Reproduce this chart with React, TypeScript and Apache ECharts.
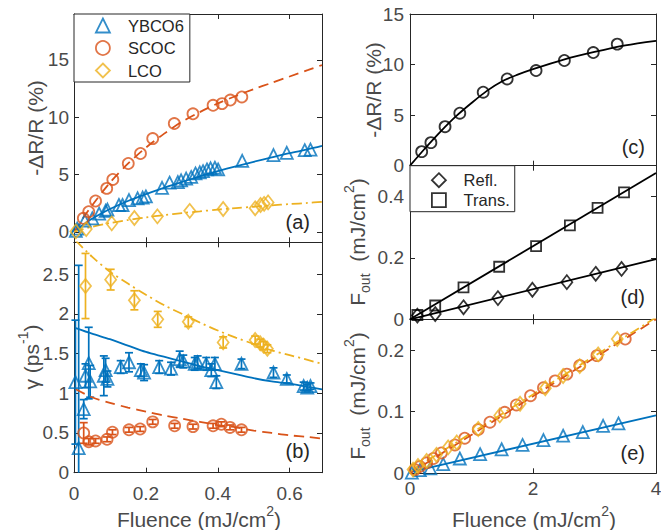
import React, { useEffect, useRef } from 'react';
import * as echarts from 'echarts';

// ---------- Panel (a): -ΔR/R (%) vs fluence ----------
const ybcoAX = [0.005, 0.009, 0.03, 0.051, 0.07, 0.088, 0.093, 0.125, 0.135, 0.153, 0.177, 0.191, 0.2, 0.245, 0.266, 0.289, 0.298, 0.312, 0.326, 0.338, 0.35, 0.359, 0.37, 0.38, 0.392, 0.401, 0.468, 0.555, 0.592, 0.642, 0.658];
const ybcoAY = [0.1, 0.3, 1.0, 1.19, 1.6, 1.85, 1.95, 2.35, 2.35, 2.78, 2.93, 3.0, 3.1, 3.85, 4.3, 4.35, 4.5, 4.65, 4.8, 5.1, 5.2, 5.3, 5.45, 5.55, 5.6, 5.45, 6.2, 6.7, 6.9, 7.13, 7.18];
const scocAX = [0.026, 0.041, 0.06, 0.091, 0.108, 0.151, 0.185, 0.219, 0.279, 0.331, 0.387, 0.412, 0.435, 0.467];
const scocAY = [1.19, 1.77, 2.7, 3.8, 4.58, 5.97, 6.84, 8.14, 9.45, 10.3, 11.04, 11.19, 11.5, 11.77];
const lcoAX = [0.005, 0.034, 0.105, 0.168, 0.232, 0.322, 0.415, 0.504, 0.519, 0.529, 0.54];
const lcoAY = [0.05, 0.25, 0.75, 1.22, 1.36, 1.84, 2.0, 2.06, 2.35, 2.45, 2.58];

const fitLX = [0, 0.025, 0.05, 0.1, 0.15, 0.2, 0.25, 0.3, 0.35, 0.4, 0.45, 0.5, 0.55, 0.6, 0.65, 0.69];
const ybcoFitAY = [0, 0.6, 1.15, 2.0, 2.7, 3.3, 3.85, 4.35, 4.85, 5.3, 5.72, 6.12, 6.5, 6.87, 7.2, 7.5];
const scocFitAY = [0, 1.2, 2.3, 4.3, 5.95, 7.35, 8.55, 9.6, 10.45, 11.2, 11.85, 12.45, 13.0, 13.55, 14.1, 14.55];
const lcoFitAY = [0, 0.24, 0.45, 0.78, 1.04, 1.27, 1.47, 1.65, 1.8, 1.95, 2.08, 2.2, 2.32, 2.43, 2.53, 2.63];

// ---------- Panel (b): γ (ps^-1) vs fluence, with error bars ----------
const ybcoBX = [0.004, 0.013, 0.027, 0.032, 0.041, 0.045, 0.083, 0.088, 0.093, 0.13, 0.153, 0.186, 0.195, 0.237, 0.27, 0.294, 0.304, 0.336, 0.344, 0.368, 0.382, 0.392, 0.396, 0.466, 0.555, 0.592, 0.639, 0.649, 0.658];
const ybcoBY = [1.14, 0.31, 0.8, 1.22, 1.38, 1.15, 1.22, 1.29, 1.18, 1.33, 1.39, 1.29, 1.26, 1.33, 1.31, 1.43, 1.4, 1.37, 1.39, 1.37, 1.29, 1.37, 1.14, 1.37, 1.26, 1.18, 1.09, 1.07, 1.09];
const ybcoBErr = [0.78, 2.3, 0.12, 0.15, 0.45, 0.2, 0.25, 0.15, 0.1, 0.08, 0.12, 0.08, 0.1, 0.08, 0.08, 0.1, 0.08, 0.08, 0.08, 0.08, 0.08, 0.08, 0.08, 0.06, 0.06, 0.05, 0.05, 0.04, 0.04];
const scocBX = [0.027, 0.041, 0.06, 0.092, 0.107, 0.153, 0.184, 0.219, 0.28, 0.331, 0.387, 0.41, 0.434, 0.466];
const scocBY = [0.5, 0.39, 0.4, 0.42, 0.51, 0.54, 0.55, 0.64, 0.59, 0.58, 0.59, 0.61, 0.57, 0.54];
const scocBErr = [0.13, 0.04, 0.03, 0.03, 0.03, 0.03, 0.03, 0.03, 0.03, 0.03, 0.03, 0.03, 0.03, 0.03];
const lcoBX = [0.032, 0.102, 0.168, 0.233, 0.318, 0.415, 0.504, 0.518, 0.527, 0.538];
const lcoBY = [2.35, 2.43, 2.17, 1.93, 1.9, 1.64, 1.67, 1.63, 1.6, 1.56];
const lcoBErr = [0.41, 0.13, 0.12, 0.1, 0.06, 0.07, 0.05, 0.05, 0.05, 0.05];

const fitBX = [0.005, 0.05, 0.1, 0.15, 0.2, 0.25, 0.3, 0.35, 0.4, 0.45, 0.5, 0.55, 0.6, 0.65, 0.69];
const ybcoFitBY = [1.82, 1.75, 1.68, 1.6, 1.52, 1.46, 1.4, 1.34, 1.29, 1.24, 1.19, 1.15, 1.12, 1.08, 1.05];
const scocFitBY = [1.05, 0.95, 0.88, 0.82, 0.77, 0.72, 0.68, 0.64, 0.6, 0.57, 0.53, 0.5, 0.47, 0.45, 0.43];
const lcoFitBY = [2.92, 2.72, 2.53, 2.38, 2.24, 2.11, 2.0, 1.89, 1.79, 1.7, 1.62, 1.54, 1.48, 1.42, 1.37];

// ---------- Panel (c) ----------
const cX = [0.19, 0.34, 0.57, 0.81, 1.19, 1.58, 2.05, 2.51, 2.98, 3.37];
const cY = [1.39, 2.28, 3.86, 5.19, 7.27, 8.58, 9.41, 10.4, 11.19, 12.02];
const cFitX = [0, 0.25, 0.5, 0.75, 1, 1.25, 1.5, 1.75, 2, 2.5, 3, 3.5, 4];
const cFitY = [0, 1.75, 3.4, 4.9, 6.2, 7.4, 8.35, 9.0, 9.55, 10.5, 11.25, 11.9, 12.35];

// ---------- Panel (d) ----------
const reflX = [0.12, 0.41, 0.87, 1.43, 1.99, 2.55, 3.02, 3.44];
const reflY = [0.012, 0.017, 0.039, 0.069, 0.096, 0.121, 0.148, 0.164];
const transX = [0.12, 0.41, 0.87, 1.45, 2.05, 2.6, 3.05, 3.48];
const transY = [0.014, 0.045, 0.104, 0.171, 0.238, 0.306, 0.363, 0.413];
const dFitX = [0, 4];
const reflFitY = [0, 0.196];
const transFitY = [0, 0.476];

// ---------- Panel (e) ----------
const ybcoEX = [0.03, 0.16, 0.33, 0.54, 0.81, 1.14, 1.49, 1.83, 2.17, 2.49, 2.81, 3.14, 3.39];
const ybcoEY = [0.001, 0.005, 0.008, 0.015, 0.024, 0.031, 0.039, 0.046, 0.054, 0.061, 0.067, 0.077, 0.081];
const scocEX = [0.08, 0.16, 0.27, 0.38, 0.51, 0.73, 0.89, 1.11, 1.3, 1.54, 1.73, 1.96, 2.17, 2.36, 2.55, 2.76, 3.04, 3.5];
const scocEY = [0.006, 0.011, 0.017, 0.024, 0.033, 0.046, 0.057, 0.071, 0.083, 0.099, 0.111, 0.126, 0.139, 0.15, 0.161, 0.175, 0.191, 0.218];
const lcoEX = [0.05, 0.13, 0.27, 0.43, 0.62, 0.76, 1.11, 1.46, 1.79, 2.2, 2.49, 2.76, 3.06, 3.37];
const lcoEY = [0.006, 0.012, 0.02, 0.03, 0.042, 0.05, 0.072, 0.094, 0.113, 0.138, 0.158, 0.174, 0.193, 0.218];
const eFitX = [0, 4];
const ybcoFitEY = [0.002, 0.094];
const scocFitEY = [0, 0.25];
const lcoFitEY = [0.003, 0.253];

// ---------- Tick values ----------
const leftXTicks = [0, 0.2, 0.4, 0.6];
const rightXTicks = [0, 2, 4];
const aYTicks = [0, 5, 10, 15];
const bYTicks = [0, 0.5, 1, 1.5, 2, 2.5];
const cYTicks = [0, 5, 10, 15];
const dYTicks = [0, 0.2, 0.4];
const eYTicks = [0, 0.1, 0.2];

const BLUE = '#0072BD';
const ORANGE = '#D95319';
const YELLOW = '#EDB120';
const BLACK = '#000000';
const AX = '#262626';
const LBL = '#4a4a4a';
const FONT = '"Liberation Sans", Arial, Helvetica, sans-serif';

const zip = (xs: number[], ys: number[]) => xs.map((x, i) => [x, ys[i]]);
const zip3 = (xs: number[], ys: number[], es: number[]) => xs.map((x, i) => [x, ys[i], es[i]]);

const hollow = (c: string) => ({ color: 'rgba(0,0,0,0)', borderColor: c, borderWidth: 1.8 });

function mkX(grid: number, max: number, ticks: number[], labels: boolean, margin: number) {
  const line = { show: true, onZero: false, lineStyle: { color: AX, width: 1 } };
  const tick = { show: true, inside: true, length: 5, customValues: ticks, lineStyle: { color: AX, width: 1 } };
  return [
    {
      type: 'value', gridIndex: grid, min: 0, max, position: 'bottom', axisLine: line, axisTick: tick,
      axisLabel: { show: labels, customValues: ticks, margin, color: LBL, fontSize: 19, fontFamily: FONT },
      splitLine: { show: false },
    },
    {
      type: 'value', gridIndex: grid, min: 0, max, position: 'top', axisLine: line, axisTick: tick,
      axisLabel: { show: false }, splitLine: { show: false },
    },
  ];
}

function mkY(grid: number, min: number, max: number, ticks: number[], margin: number) {
  const line = { show: true, onZero: false, lineStyle: { color: AX, width: 1 } };
  const tick = { show: true, inside: true, length: 5, customValues: ticks, lineStyle: { color: AX, width: 1 } };
  return [
    {
      type: 'value', gridIndex: grid, min, max, position: 'left', axisLine: line, axisTick: tick,
      axisLabel: { show: true, customValues: ticks, margin, color: LBL, fontSize: 19, fontFamily: FONT },
      splitLine: { show: false },
    },
    {
      type: 'value', gridIndex: grid, min, max, position: 'right', axisLine: line, axisTick: tick,
      axisLabel: { show: false }, splitLine: { show: false },
    },
  ];
}

const errRender = (color: string) => (params: any, api: any) => {
  const x = api.value(0);
  const y = api.value(1);
  const e = api.value(2);
  const cs = params.coordSys;
  const hi = api.coord([x, y + e]);
  const lo = api.coord([x, y - e]);
  const top = cs.y;
  const bottom = cs.y + cs.height;
  const px = hi[0];
  const y1 = Math.max(hi[1], top);
  const y2 = Math.min(lo[1], bottom);
  const st = { stroke: color, lineWidth: 1.7 };
  const ch: any[] = [{ type: 'line', shape: { x1: px, y1, x2: px, y2 }, style: st }];
  if (hi[1] >= top) ch.push({ type: 'line', shape: { x1: px - 4, y1: hi[1], x2: px + 4, y2: hi[1] }, style: st });
  if (lo[1] <= bottom) ch.push({ type: 'line', shape: { x1: px - 4, y1: lo[1], x2: px + 4, y2: lo[1] }, style: st });
  return { type: 'group', children: ch };
};

function scatter(name: string, g: number, data: number[][], symbol: string, size: any, c: string) {
  return {
    type: 'scatter', name, xAxisIndex: 2 * g, yAxisIndex: 2 * g, data, symbol, symbolSize: size,
    itemStyle: hollow(c), z: 4, silent: true,
  };
}
function fit(name: string, g: number, data: number[][], c: string, type: any) {
  return {
    type: 'line', name, xAxisIndex: 2 * g, yAxisIndex: 2 * g, data, symbol: 'none', showSymbol: false,
    smooth: 0.3, lineStyle: { color: c, width: 1.8, type }, z: 3, silent: true,
  };
}
function errs(g: number, data: number[][], c: string) {
  return {
    type: 'custom', xAxisIndex: 2 * g, yAxisIndex: 2 * g, data, dimensions: ['x', 'y', 'e'],
    encode: { x: 0, y: 1 }, renderItem: errRender(c), z: 3, silent: true,
  };
}

const DASH = [10, 6];
const DASHDOT = [10, 4, 2, 4];

function buildOption(): any {
  const richBase = { fontSize: 21, fontFamily: FONT, fill: LBL, lineHeight: 30 };
  const rich = {
    t: { ...richBase },
    s: { fontSize: 14, fontFamily: FONT, fill: LBL, lineHeight: 14, verticalAlign: 'top' },
    b: { fontSize: 14, fontFamily: FONT, fill: LBL, lineHeight: 14, verticalAlign: 'bottom' },
  };
  const title = (x: number, y: number, text: string, rotate: boolean) => ({
    type: 'text', x, y, rotation: rotate ? Math.PI / 2 : 0, silent: true,
    style: { text, rich, fill: LBL, font: `21px ${FONT}`, align: 'center', verticalAlign: 'middle', textAlign: 'center', textVerticalAlign: 'middle' },
  });
  const letter = (x: number, y: number, text: string) => ({
    type: 'text', x, y, silent: true, z: 10,
    style: { text, fill: '#262626', font: `20px ${FONT}`, fontSize: 20, fontFamily: FONT, align: 'right', verticalAlign: 'middle', textAlign: 'right', textVerticalAlign: 'middle' },
  });

  return {
    animation: false,
    backgroundColor: '#ffffff',
    grid: [
      { left: 74, top: 14, width: 248, height: 228.3, outerBoundsMode: 'none' },
      { left: 74, top: 242.3, width: 248, height: 230.4, outerBoundsMode: 'none' },
      { left: 410, top: 14, width: 246, height: 151.7, outerBoundsMode: 'none' },
      { left: 410, top: 165.7, width: 246, height: 153.6, outerBoundsMode: 'none' },
      { left: 410, top: 319.3, width: 246, height: 154, outerBoundsMode: 'none' },
    ],
    xAxis: [
      ...mkX(0, 0.69, leftXTicks, false, 10),
      ...mkX(1, 0.69, leftXTicks, true, 11),
      ...mkX(2, 4, rightXTicks, false, 6),
      ...mkX(3, 4, rightXTicks, false, 6),
      ...mkX(4, 4, rightXTicks, true, 6),
    ],
    yAxis: [
      ...mkY(0, -0.9, 19, aYTicks, 5),
      ...mkY(1, 0, 2.9, bYTicks, 5),
      ...mkY(2, 0, 15, cYTicks, 6),
      ...mkY(3, 0, 0.5, dYTicks, 6),
      ...mkY(4, 0, 0.25, eYTicks, 6),
    ],
    legend: [
      {
        show: true, selectedMode: false, orient: 'vertical', left: 74, top: 14,
        padding: [3, 6, 3, 21], itemGap: 5.5, itemWidth: 14, itemHeight: 14, symbolKeepAspect: true,
        backgroundColor: '#ffffff', borderColor: AX, borderWidth: 1, borderRadius: 0, z: 20,
        textStyle: { fontSize: 16.5, color: '#262626', fontFamily: FONT, padding: [0, 0, 0, 13] },
        data: [
          { name: 'YBCO6', icon: 'triangle', itemStyle: hollow(BLUE) },
          { name: 'SCOC', icon: 'circle', itemStyle: hollow(ORANGE) },
          { name: 'LCO', icon: 'diamond', itemStyle: hollow(YELLOW) },
        ],
      },
      {
        show: true, selectedMode: false, orient: 'vertical', left: 410, top: 165.7,
        padding: [6, 5, 3, 21], itemGap: 3, itemWidth: 14, itemHeight: 14, symbolKeepAspect: true,
        backgroundColor: '#ffffff', borderColor: AX, borderWidth: 1, borderRadius: 0, z: 20,
        textStyle: { fontSize: 16.5, color: '#262626', fontFamily: FONT, padding: [0, 0, 0, 12.7] },
        data: [
          { name: 'Refl.', icon: 'diamond', itemStyle: hollow(BLACK) },
          { name: 'Trans.', icon: 'rect', itemStyle: hollow(BLACK) },
        ],
      },
    ],
    graphic: [
      title(35, 128, '-ΔR/R (%)', true),
      title(31, 357, '{t|γ (ps}{s|-1}{t|)}', true),
      title(373, 90, '-ΔR/R (%)', true),
      title(357, 242, '{t|F}{b|out}{t|  (mJ/cm}{s|2}{t|)}', true),
      title(357, 396, '{t|F}{b|out}{t|  (mJ/cm}{s|2}{t|)}', true),
      title(199, 519, '{t|Fluence (mJ/cm}{s|2}{t|)}', false),
      title(534, 519, '{t|Fluence (mJ/cm}{s|2}{t|)}', false),
      letter(310, 221.7, '(a)'),
      letter(310, 450.7, '(b)'),
      letter(645, 146.7, '(c)'),
      letter(645, 296.7, '(d)'),
      letter(645, 452.7, '(e)'),
    ],
    series: [
      // (a)
      fit('YBCO6 fit a', 0, zip(fitLX, ybcoFitAY), BLUE, 'solid'),
      fit('SCOC fit a', 0, zip(fitLX, scocFitAY), ORANGE, DASH),
      fit('LCO fit a', 0, zip(fitLX, lcoFitAY), YELLOW, DASHDOT),
      scatter('YBCO6', 0, zip(ybcoAX, ybcoAY), 'triangle', 12, BLUE),
      scatter('SCOC', 0, zip(scocAX, scocAY), 'circle', 11, ORANGE),
      scatter('LCO', 0, zip(lcoAX, lcoAY), 'diamond', [11, 14], YELLOW),
      // (b)
      fit('YBCO6 fit b', 1, zip(fitBX, ybcoFitBY), BLUE, 'solid'),
      fit('SCOC fit b', 1, zip(fitBX, scocFitBY), ORANGE, DASH),
      fit('LCO fit b', 1, zip(fitBX, lcoFitBY), YELLOW, DASHDOT),
      errs(1, zip3(ybcoBX, ybcoBY, ybcoBErr), BLUE),
      errs(1, zip3(scocBX, scocBY, scocBErr), ORANGE),
      errs(1, zip3(lcoBX, lcoBY, lcoBErr), YELLOW),
      scatter('YBCO6 b', 1, zip(ybcoBX, ybcoBY), 'triangle', 12, BLUE),
      scatter('SCOC b', 1, zip(scocBX, scocBY), 'circle', 11, ORANGE),
      scatter('LCO b', 1, zip(lcoBX, lcoBY), 'diamond', [11, 14], YELLOW),
      // (c)
      fit('c fit', 2, zip(cFitX, cFitY), BLACK, 'solid'),
      scatter('c data', 2, zip(cX, cY), 'circle', 11, BLACK),
      // (d)
      fit('Refl. fit', 3, zip(dFitX, reflFitY), BLACK, 'solid'),
      fit('Trans. fit', 3, zip(dFitX, transFitY), BLACK, 'solid'),
      scatter('Refl.', 3, zip(reflX, reflY), 'diamond', [11, 14], BLACK),
      scatter('Trans.', 3, zip(transX, transY), 'rect', 10, BLACK),
      // (e)
      fit('YBCO6 fit e', 4, zip(eFitX, ybcoFitEY), BLUE, 'solid'),
      fit('SCOC fit e', 4, zip(eFitX, scocFitEY), ORANGE, DASH),
      fit('LCO fit e', 4, zip(eFitX, lcoFitEY), YELLOW, DASHDOT),
      scatter('YBCO6 e', 4, zip(ybcoEX, ybcoEY), 'triangle', 12, BLUE),
      scatter('SCOC e', 4, zip(scocEX, scocEY), 'circle', 11, ORANGE),
      scatter('LCO e', 4, zip(lcoEX, lcoEY), 'diamond', [11, 14], YELLOW),
    ],
  };
}

export default function App() {
  const ref = useRef<HTMLDivElement>(null);
  useEffect(() => {
    if (!ref.current) return;
    const chart = echarts.init(ref.current, null, { renderer: 'svg' });
    chart.setOption(buildOption());
    return () => chart.dispose();
  }, []);
  return (
    <div
      ref={ref}
      style={{ position: 'fixed', left: 0, top: 0, width: 661, height: 530, background: '#ffffff' }}
    />
  );
}
